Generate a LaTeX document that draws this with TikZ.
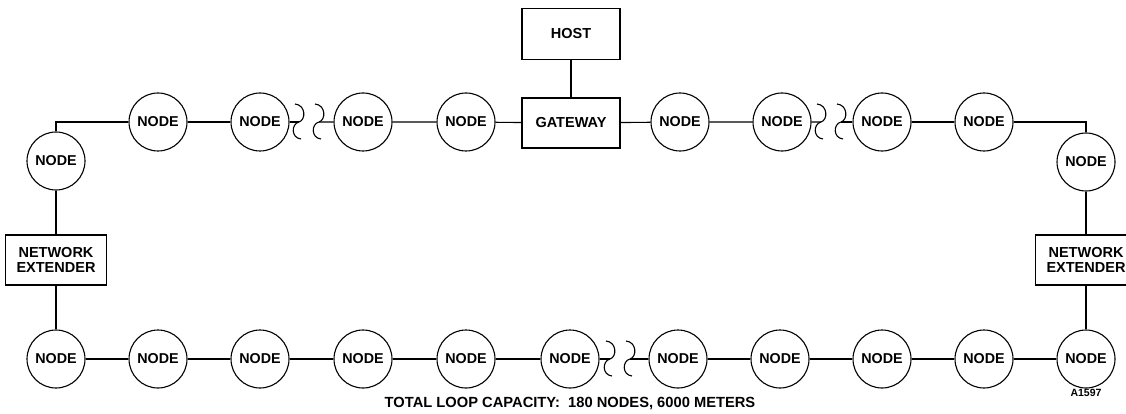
\documentclass[tikz,border=0pt]{standalone}
\usepackage{fontspec}
\setmainfont{Liberation Sans}
\usepackage{tikz}

\tikzset{
  ring/.style={draw, circle, minimum size=58pt, inner sep=0pt,
    font=\bfseries\fontsize{14.3}{15}\selectfont},
  unit/.style={draw, rectangle, minimum width=98pt, minimum height=50pt,
    inner sep=0pt, align=center, font=\bfseries\fontsize{14.5}{15}\selectfont},
  brk/.pic={
    \draw (-4,-18) .. controls (7,-17) and (7,-2) .. (0,0)
          .. controls (-8,2) and (-8,16) .. (2,17);
  }
}

\begin{document}
\begin{tikzpicture}[x=1pt, y=-1pt, line width=1.1pt]
%\draw[help lines] (0,0) grid[step=50] (1126,414);
\useasboundingbox (0,0) rectangle (1126,414);

 % host and gateway
 \node[unit, minimum height=51pt] (host) at (571,34) {HOST};
 \node[unit] (gw) at (571,123) {GATEWAY};

 % top row
 \node[ring] (t1) at (158,122) {NODE};
 \node[ring] (t2) at (260,122) {NODE};
 \node[ring] (t3) at (363,122) {NODE};
 \node[ring] (t4) at (466,122) {NODE};
 \node[ring] (t5) at (680,122) {NODE};
 \node[ring] (t6) at (782,122) {NODE};
 \node[ring] (t7) at (882,122) {NODE};
 \node[ring] (t8) at (984,122) {NODE};

 % sides
 \node[ring] (l1) at (56,161) {NODE};
 \node[unit, minimum width=101pt] (nxl) at (56,260) {NETWORK\\EXTENDER};
 \node[ring] (r1) at (1086,162) {NODE};
 \node[unit, minimum width=101pt] (nxr) at (1086,260) {NETWORK\\EXTENDER};

 % bottom row
 \node[ring] (b1) at (56,359) {NODE};
 \node[ring] (b2) at (158,359) {NODE};
 \node[ring] (b3) at (260,359) {NODE};
 \node[ring] (b4) at (363,359) {NODE};
 \node[ring] (b5) at (466,359) {NODE};
 \node[ring] (b6) at (570,359) {NODE};
 \node[ring] (b7) at (678,359) {NODE};
 \node[ring] (b8) at (780,359) {NODE};
 \node[ring] (b9) at (882,359) {NODE};
 \node[ring] (b10) at (984,359) {NODE};
 \node[ring] (b11) at (1086,359) {NODE};

 % breaks in the loop
 \coordinate (k1) at (299,122);
 \coordinate (k2) at (319,122);
 \coordinate (k3) at (821,122);
 \coordinate (k4) at (841,122);
 \coordinate (k5) at (610,359);
 \coordinate (k6) at (630,359);
 \pic at (k1) {brk};
 \pic at (k2) {brk};
 \pic at (k3) {brk};
 \pic at (k4) {brk};
 \pic at (k5) {brk};
 \pic at (k6) {brk};

 % cable
 \draw (host) -- (gw);
 \draw (l1) |- (t1);
 \draw (t1) -- (t2) -- (k1);
 \draw (k2) -- (t3) -- (t4) -- (gw) -- (t5) -- (t6) -- (k3);
 \draw (k4) -- (t7) -- (t8) -| (r1);
 \draw (r1) -- (nxr) -- (b11);
 \draw (l1) -- (nxl) -- (b1);
 \draw (b1) -- (b2) -- (b3) -- (b4) -- (b5) -- (b6) -- (k5);
 \draw (k6) -- (b7) -- (b8) -- (b9) -- (b10) -- (b11);

 \node[font=\bfseries\fontsize{14.7}{15}\selectfont] (cap) at (570,404)
   {TOTAL LOOP CAPACITY:\ \ 180 NODES, 6000 METERS};
 \node[font=\bfseries\fontsize{10.5}{11}\selectfont] (fig) at (1086,393) {A1597};

\end{tikzpicture}
\end{document}
